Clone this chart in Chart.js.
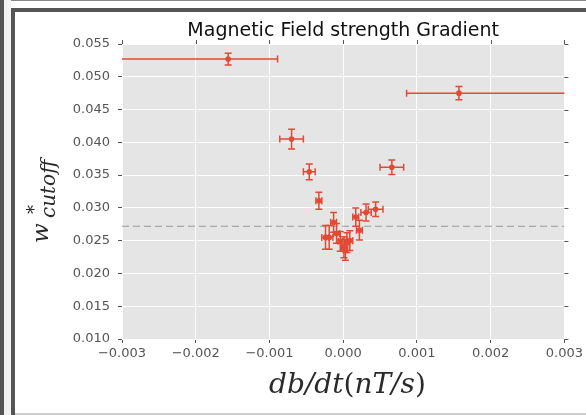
<!DOCTYPE html>
<html>
<head>
<meta charset="utf-8">
<script src="https://cdn.jsdelivr.net/npm/chart.js@4.4.1/dist/chart.umd.min.js"></script>
<style>
  html, body { margin: 0; padding: 0; background: #fff; }
  #wrap { position: relative; width: 586px; height: 415px; overflow: hidden; }
  .band { position: absolute; background: #555; }
  canvas { position: absolute; left: 0; top: 0; }
</style>
</head>
<body>
<div id="wrap">
  <div class="band" style="left:0;top:0;width:4px;height:415px;"></div>
  <div class="band" style="left:4px;top:0;width:7px;height:415px;background:#f2f2f2;"></div>
  <div class="band" style="left:11px;top:0;width:575px;height:1px;background:#888;"></div>
  <div class="band" style="left:11px;top:8px;width:575px;height:4px;"></div>
  <div class="band" style="left:11px;top:8px;width:4px;height:407px;"></div>
  <div class="band" style="left:15px;top:413px;width:571px;height:2px;background:#ccc;"></div>
  <canvas id="chart" width="586" height="415"></canvas>
</div>
<script>
// values
const rates  = [-0.00156, 0.00157, -0.00070, -0.00046, -0.00033, -0.00024, -0.00019, -0.00013, -0.00009, -0.00004,
                 0.00001, 0.00003, 0.00005, 0.00009, 0.00017, 0.00022, 0.00031, 0.00044, 0.00066];
const cutoffs = [0.0527, 0.0475, 0.0405, 0.0355, 0.0311, 0.0255, 0.0255, 0.0278, 0.0261, 0.0249,
                 0.0240, 0.0236, 0.0247, 0.0250, 0.0286, 0.0266, 0.0293, 0.0298, 0.0362];
const rateLow  = [-0.0045, 0.00086, -0.00086, -0.00054, -0.00037, -0.00029, -0.00024, -0.00017, -0.00013, -0.00007,
                  -0.00002, 0.00000, 0.00002, 0.00005, 0.00013, 0.00018, 0.00024, 0.00034, 0.00050];
const rateHigh = [-0.00089, 0.0045, -0.00054, -0.00038, -0.00029, -0.00019, -0.00014, -0.00009, -0.00005, -0.00001,
                   0.00004, 0.00006, 0.00008, 0.00013, 0.00021, 0.00026, 0.00038, 0.00054, 0.00082];
const cutoffErr = [0.0009, 0.0010, 0.0015, 0.0012, 0.0013, 0.0018, 0.0018, 0.0015, 0.0015, 0.0015,
                   0.0016, 0.0016, 0.0015, 0.0015, 0.0014, 0.0015, 0.0013, 0.0011, 0.0011];
const meanCutoff = 0.0272;
const xTicks = [-0.003, 0.003, 0.001];   // min, max, step
const yTicks = [0.010, 0.055, 0.005];

const red = '#e24a33';
const tickFont = {family: 'DejaVu Sans', size: 13};
const serif = '"DejaVu Serif"';

function fmt(v) {
    if (Math.abs(v) < 1e-9) v = 0;
    return v.toFixed(3).replace('-', '\u2212');
}

// grey panel, error bars, reference line, mirrored ticks and titles
const decor = {
    id: 'decor',
    beforeDraw(chart) {
        const a = chart.chartArea, ctx = chart.ctx;
        ctx.save();
        ctx.fillStyle = '#e5e5e5';
        ctx.fillRect(a.left, a.top, a.right - a.left, a.bottom - a.top);
        ctx.restore();
    },
    beforeDatasetsDraw(chart) {
        const a = chart.chartArea, ctx = chart.ctx;
        const xs = chart.scales.x, ys = chart.scales.y;
        ctx.save();
        ctx.beginPath();
        ctx.rect(a.left, a.top, a.right - a.left, a.bottom - a.top);
        ctx.clip();
        // dashed mean line
        ctx.strokeStyle = '#999';
        ctx.lineWidth = 1.2;
        ctx.setLineDash([7, 4]);
        const yl = ys.getPixelForValue(meanCutoff);
        ctx.beginPath();
        ctx.moveTo(a.left, yl);
        ctx.lineTo(a.right, yl);
        ctx.stroke();
        ctx.setLineDash([]);
        // error bars
        ctx.strokeStyle = red;
        ctx.lineWidth = 1.5;
        const cap = 3.5;
        for (let i = 0; i < rates.length; i++) {
            const px = xs.getPixelForValue(rates[i]);
            const py = ys.getPixelForValue(cutoffs[i]);
            const x0 = xs.getPixelForValue(rateLow[i]);
            const x1 = xs.getPixelForValue(rateHigh[i]);
            const y0 = ys.getPixelForValue(cutoffs[i] - cutoffErr[i]);
            const y1 = ys.getPixelForValue(cutoffs[i] + cutoffErr[i]);
            ctx.beginPath();
            ctx.moveTo(x0, py); ctx.lineTo(x1, py);
            ctx.moveTo(x0, py - cap); ctx.lineTo(x0, py + cap);
            ctx.moveTo(x1, py - cap); ctx.lineTo(x1, py + cap);
            ctx.moveTo(px, y0); ctx.lineTo(px, y1);
            ctx.moveTo(px - cap, y0); ctx.lineTo(px + cap, y0);
            ctx.moveTo(px - cap, y1); ctx.lineTo(px + cap, y1);
            ctx.stroke();
        }
        ctx.restore();
    },
    afterDraw(chart) {
        const a = chart.chartArea, ctx = chart.ctx;
        const xs = chart.scales.x, ys = chart.scales.y;
        ctx.save();
        // ticks on top and right edges
        ctx.strokeStyle = '#555';
        ctx.lineWidth = 1;
        ctx.beginPath();
        xs.ticks.forEach(t => {
            const p = Math.round(xs.getPixelForValue(t.value)) + 0.5;
            ctx.moveTo(p, a.top); ctx.lineTo(p, a.top - 4);
        });
        ys.ticks.forEach(t => {
            const p = Math.round(ys.getPixelForValue(t.value)) + 0.5;
            ctx.moveTo(a.right, p); ctx.lineTo(a.right + 4, p);
        });
        ctx.stroke();

        // title
        ctx.fillStyle = '#111';
        ctx.font = '19px "DejaVu Sans"';
        ctx.textAlign = 'center';
        ctx.textBaseline = 'alphabetic';
        ctx.fillText('Magnetic Field strength Gradient', (a.left + a.right) / 2, 36);

        // x axis title: db/dt(nT/s)
        const parts = [['db/dt', 'italic'], ['(', 'normal'], ['nT/s', 'italic'], [')', 'normal']];
        ctx.fillStyle = '#2a2a2a';
        ctx.textAlign = 'left';
        let total = 0;
        parts.forEach(p => {
            ctx.font = p[1] + ' 28px ' + serif;
            total += ctx.measureText(p[0]).width;
        });
        let cx = 347.5 - total / 2;
        parts.forEach(p => {
            ctx.font = p[1] + ' 28px ' + serif;
            ctx.fillText(p[0], cx, 393);
            cx += ctx.measureText(p[0]).width;
        });

        // y axis title: w*_cutoff
        ctx.translate(48, 243);
        ctx.rotate(-Math.PI / 2);
        ctx.font = 'italic 23px ' + serif;
        ctx.fillText('w', 0, 0);
        ctx.font = 'italic 20px ' + serif;
        ctx.fillText('cutoff', 25, 7);
        ctx.font = '18px ' + serif;
        ctx.fillText('*', 29, -8);
        ctx.restore();
    }
};

new Chart(document.getElementById('chart'), {
    type: 'scatter',
    data: {
        datasets: [{
            data: rates.map((r, i) => ({x: r, y: cutoffs[i]})),
            backgroundColor: red,
            borderColor: red,
            pointRadius: 2.8,
            pointBorderWidth: 0,
        }],
    },
    options: {
        responsive: false,
        animation: false,
        layout: {padding: {top: 44, right: 21, left: 0, bottom: 0}},
        plugins: {
            legend: {display: false},
            tooltip: {enabled: false},
            title: {display: false},
        },
        scales: {
            x: {
                type: 'linear',
                min: xTicks[0], max: xTicks[1],
                afterFit(s) { s.height = 76; },
                border: {display: false},
                grid: {color: '#fff', tickColor: '#555', tickLength: 4, lineWidth: 1},
                ticks: {stepSize: xTicks[2], color: '#555', font: tickFont, padding: 3, maxRotation: 0,
                        callback: v => fmt(v)},
            },
            y: {
                type: 'linear',
                min: yTicks[0], max: yTicks[1],
                afterFit(s) { s.width = 122; },
                border: {display: false},
                grid: {color: '#fff', tickColor: '#555', tickLength: 4, lineWidth: 1},
                ticks: {stepSize: yTicks[2], color: '#555', font: tickFont, padding: 8,
                        callback: v => fmt(v)},
            },
        },
    },
    plugins: [decor],
});
</script>
</body>
</html>
